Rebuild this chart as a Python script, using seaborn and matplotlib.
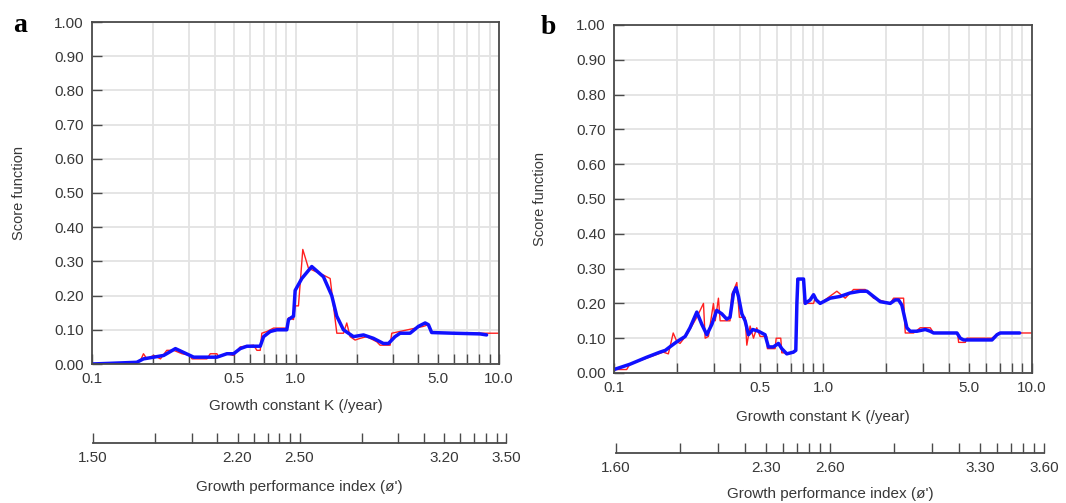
import numpy as np
import pandas as pd
import matplotlib
matplotlib.use("Agg")
import matplotlib.pyplot as plt
import seaborn as sns
from matplotlib.ticker import FixedLocator, FixedFormatter, NullFormatter

# ---------------- data ----------------
# Panel a
k_red_a = [0.100, 0.160, 0.173, 0.179, 0.186, 0.201, 0.217, 0.233, 0.252, 0.277,
           0.304, 0.310, 0.367, 0.381, 0.411, 0.419, 0.460, 0.496, 0.535, 0.622,
           0.646, 0.671, 0.683, 0.723, 0.780, 0.907, 0.924, 0.978, 0.996, 1.034,
           1.086, 1.158, 1.372, 1.480, 1.537, 1.596, 1.721, 1.786, 1.855, 1.963,
           2.077, 2.239, 2.508, 2.604, 2.916, 2.972, 4.251, 4.498, 4.670, 10.0]
s_red_a = [0.000, 0.000, 0.010, 0.030, 0.015, 0.025, 0.015, 0.040, 0.040, 0.030,
           0.025, 0.015, 0.015, 0.030, 0.030, 0.020, 0.030, 0.025, 0.050, 0.055,
           0.040, 0.040, 0.090, 0.095, 0.105, 0.105, 0.135, 0.130, 0.170, 0.170,
           0.335, 0.280, 0.260, 0.250, 0.170, 0.090, 0.090, 0.120, 0.080, 0.070,
           0.075, 0.080, 0.065, 0.055, 0.055, 0.090, 0.110, 0.115, 0.090, 0.090]
k_blue_a = [0.100, 0.123, 0.166, 0.179, 0.201, 0.225, 0.257, 0.316, 0.411, 0.460,
            0.496, 0.535, 0.577, 0.671, 0.697, 0.751, 0.809, 0.906, 0.924, 0.978,
            0.996, 1.074, 1.202, 1.372, 1.507, 1.595, 1.720, 1.927, 2.158, 2.416,
            2.704, 2.863, 3.084, 3.266, 3.656, 4.018, 4.335, 4.498, 4.668, 5.969,
            8.07, 8.69]
s_blue_a = [0.000, 0.002, 0.005, 0.015, 0.020, 0.025, 0.045, 0.020, 0.020, 0.030,
            0.030, 0.045, 0.052, 0.052, 0.080, 0.095, 0.100, 0.100, 0.130, 0.140,
            0.215, 0.250, 0.285, 0.255, 0.200, 0.140, 0.100, 0.080, 0.085, 0.075,
            0.060, 0.060, 0.080, 0.090, 0.090, 0.110, 0.120, 0.115, 0.092, 0.090,
            0.088, 0.085]

# Panel b
k_red_b = [0.100, 0.115, 0.119, 0.172, 0.182, 0.192, 0.200, 0.207, 0.223, 0.249,
           0.268, 0.273, 0.283, 0.299, 0.305, 0.316, 0.322, 0.359, 0.366, 0.387,
           0.398, 0.424, 0.432, 0.448, 0.465, 0.482, 0.500, 0.538, 0.542, 0.590,
           0.597, 0.628, 0.635, 0.722, 0.744, 0.750, 0.807, 0.813, 0.901, 0.917,
           0.969, 1.165, 1.277, 1.400, 1.592, 1.745, 2.098, 2.176, 2.430, 2.475,
           2.713, 2.920, 3.260, 3.382, 4.406, 4.455, 4.795, 4.884, 6.435, 6.925,
           10.0]
s_red_b = [0.010, 0.010, 0.025, 0.060, 0.055, 0.115, 0.090, 0.085, 0.110, 0.160,
           0.200, 0.100, 0.105, 0.200, 0.150, 0.215, 0.150, 0.150, 0.225, 0.260,
           0.160, 0.160, 0.080, 0.135, 0.100, 0.130, 0.105, 0.105, 0.070, 0.070,
           0.100, 0.100, 0.058, 0.058, 0.070, 0.270, 0.270, 0.200, 0.200, 0.215,
           0.200, 0.235, 0.215, 0.240, 0.240, 0.215, 0.200, 0.215, 0.215, 0.115,
           0.115, 0.130, 0.130, 0.115, 0.115, 0.088, 0.088, 0.100, 0.100, 0.115,
           0.115]
k_blue_b = [0.100, 0.119, 0.143, 0.166, 0.176, 0.185, 0.200, 0.219, 0.231, 0.249,
            0.263, 0.278, 0.294, 0.310, 0.328, 0.346, 0.359, 0.373, 0.384, 0.394,
            0.409, 0.424, 0.440, 0.461, 0.491, 0.528, 0.548, 0.579, 0.612, 0.635,
            0.671, 0.722, 0.741, 0.750, 0.758, 0.807, 0.822, 0.868, 0.901, 0.928,
            0.969, 1.082, 1.208, 1.349, 1.507, 1.622, 1.745, 1.879, 2.098, 2.216,
            2.299, 2.384, 2.520, 2.615, 2.814, 3.085, 3.260, 3.382, 4.374, 4.538,
            4.707, 5.068, 6.435, 6.799, 7.052, 8.730]
s_blue_b = [0.010, 0.025, 0.045, 0.060, 0.065, 0.075, 0.090, 0.105, 0.130, 0.175,
            0.140, 0.110, 0.140, 0.180, 0.170, 0.155, 0.160, 0.230, 0.245, 0.220,
            0.170, 0.150, 0.110, 0.125, 0.120, 0.110, 0.075, 0.075, 0.085, 0.070,
            0.055, 0.060, 0.065, 0.200, 0.270, 0.270, 0.200, 0.210, 0.225, 0.210,
            0.200, 0.215, 0.220, 0.230, 0.235, 0.235, 0.220, 0.205, 0.200, 0.210,
            0.210, 0.195, 0.130, 0.120, 0.120, 0.125, 0.120, 0.115, 0.115, 0.100,
            0.095, 0.095, 0.095, 0.110, 0.115, 0.115]

# axis ticks / labels
k_major = [0.1, 0.5, 1.0, 5.0, 10.0]
k_major_labels = ["0.1", "0.5", "1.0", "5.0", "10.0"]
k_minor = [0.2, 0.3, 0.4, 0.6, 0.7, 0.8, 0.9, 2, 3, 4, 6, 7, 8, 9]
score_ticks = [0.0, 0.1, 0.2, 0.3, 0.4, 0.5, 0.6, 0.7, 0.8, 0.9, 1.0]
phi_labels_a = ["1.50", "2.20", "2.50", "3.20", "3.50"]
phi_labels_b = ["1.60", "2.30", "2.60", "3.30", "3.60"]

# ---------------- style ----------------
sns.set_theme(style="white")
plt.rcParams['font.family'] = ['Liberation Sans', 'DejaVu Sans']
TXT = '#383838'
SPINE = '#4a4a4a'
GRID = '#e3e3e3'
FS = 11

fig = plt.figure(figsize=(10.66, 5.03), dpi=100)


def main_axes(rect, kr, sr, kb, sb, letter, letter_xy, ylabelpad, xlabelpad):
    ax = fig.add_axes(rect)
    ax.set_axisbelow(True)
    sns.lineplot(x=kr, y=sr, estimator=None, sort=False, color='#ff2020',
                 linewidth=1.0, ax=ax)
    sns.lineplot(x=kb, y=sb, estimator=None, sort=False, color='#1010ff',
                 linewidth=2.5, ax=ax)
    ax.set_xscale('log')
    ax.set_xlim(0.1, 10)
    ax.set_ylim(0, 1.0)
    ax.xaxis.set_major_locator(FixedLocator(k_major))
    ax.xaxis.set_major_formatter(FixedFormatter(k_major_labels))
    ax.xaxis.set_minor_locator(FixedLocator(k_minor))
    ax.xaxis.set_minor_formatter(NullFormatter())
    ax.yaxis.set_major_locator(FixedLocator(score_ticks))
    ax.yaxis.set_major_formatter(FixedFormatter([f"{v:.2f}" for v in score_ticks]))
    ax.grid(True, which='both', axis='x', color=GRID, linewidth=1.3)
    ax.grid(True, which='major', axis='y', color=GRID, linewidth=1.3)
    ax.tick_params(axis='both', which='both', direction='in', length=7, width=1.0,
                   color=SPINE, labelcolor=TXT, labelsize=FS, pad=6,
                   bottom=True, left=True)
    for sp in ax.spines.values():
        sp.set_color(SPINE)
        sp.set_linewidth(1.3)
        sp.set_visible(True)
    ax.set_xlabel("Growth constant K (/year)", fontsize=FS, color=TXT, labelpad=xlabelpad)
    ax.set_ylabel("Score function", fontsize=10.5, color=TXT, labelpad=ylabelpad)
    fig.text(letter_xy[0], letter_xy[1], letter, fontsize=20, fontweight='bold',
             family='Liberation Serif', color='black', ha='center', va='center')
    return ax


def phi_axes(rect, offset, phi_labels, labelpad):
    ax = fig.add_axes(rect)
    ax.set_xscale('log')
    ax.set_xlim(0.1, 10)
    ax.set_yticks([])
    phi_vals = [float(p) for p in phi_labels]
    ax.xaxis.set_major_locator(FixedLocator([10 ** (p - offset) for p in phi_vals]))
    ax.xaxis.set_major_formatter(FixedFormatter(phi_labels))
    ax.xaxis.set_minor_locator(FixedLocator(k_minor))
    ax.xaxis.set_minor_formatter(NullFormatter())
    ax.tick_params(axis='x', which='both', direction='in', length=7, width=1.0,
                   color=SPINE, labelcolor=TXT, labelsize=FS, pad=6, bottom=True)
    for name, sp in ax.spines.items():
        sp.set_visible(name == 'bottom')
    ax.spines['bottom'].set_color(SPINE)
    ax.spines['bottom'].set_linewidth(1.3)
    ax.patch.set_alpha(0)
    ax.set_xlabel("Growth performance index (\u00f8')", fontsize=FS, color=TXT,
                  labelpad=labelpad)
    return ax


W, H = 1066.0, 503.0
# panel a: axes px  x 92..499, y 22..364
main_axes([92 / W, 1 - 364 / H, 407 / W, 342 / H], k_red_a, s_red_a, k_blue_a, s_blue_a,
          'a', (20 / W, 1 - 25 / H), ylabelpad=20, xlabelpad=9)
# panel b: axes px x 614..1032, y 25..373
main_axes([614 / W, 1 - 373 / H, 418 / W, 348 / H], k_red_b, s_red_b, k_blue_b, s_blue_b,
          'b', (548 / W, 1 - 28 / H), ylabelpad=21, xlabelpad=10.5)

phi_axes([93 / W, 1 - 443 / H, 413 / W, 0.0005], 2.5, phi_labels_a, labelpad=10.5)
phi_axes([616 / W, 1 - 453 / H, 428 / W, 0.0005], 2.6, phi_labels_b, labelpad=8.5)

fig.savefig("out.png", dpi=100, facecolor='white')
